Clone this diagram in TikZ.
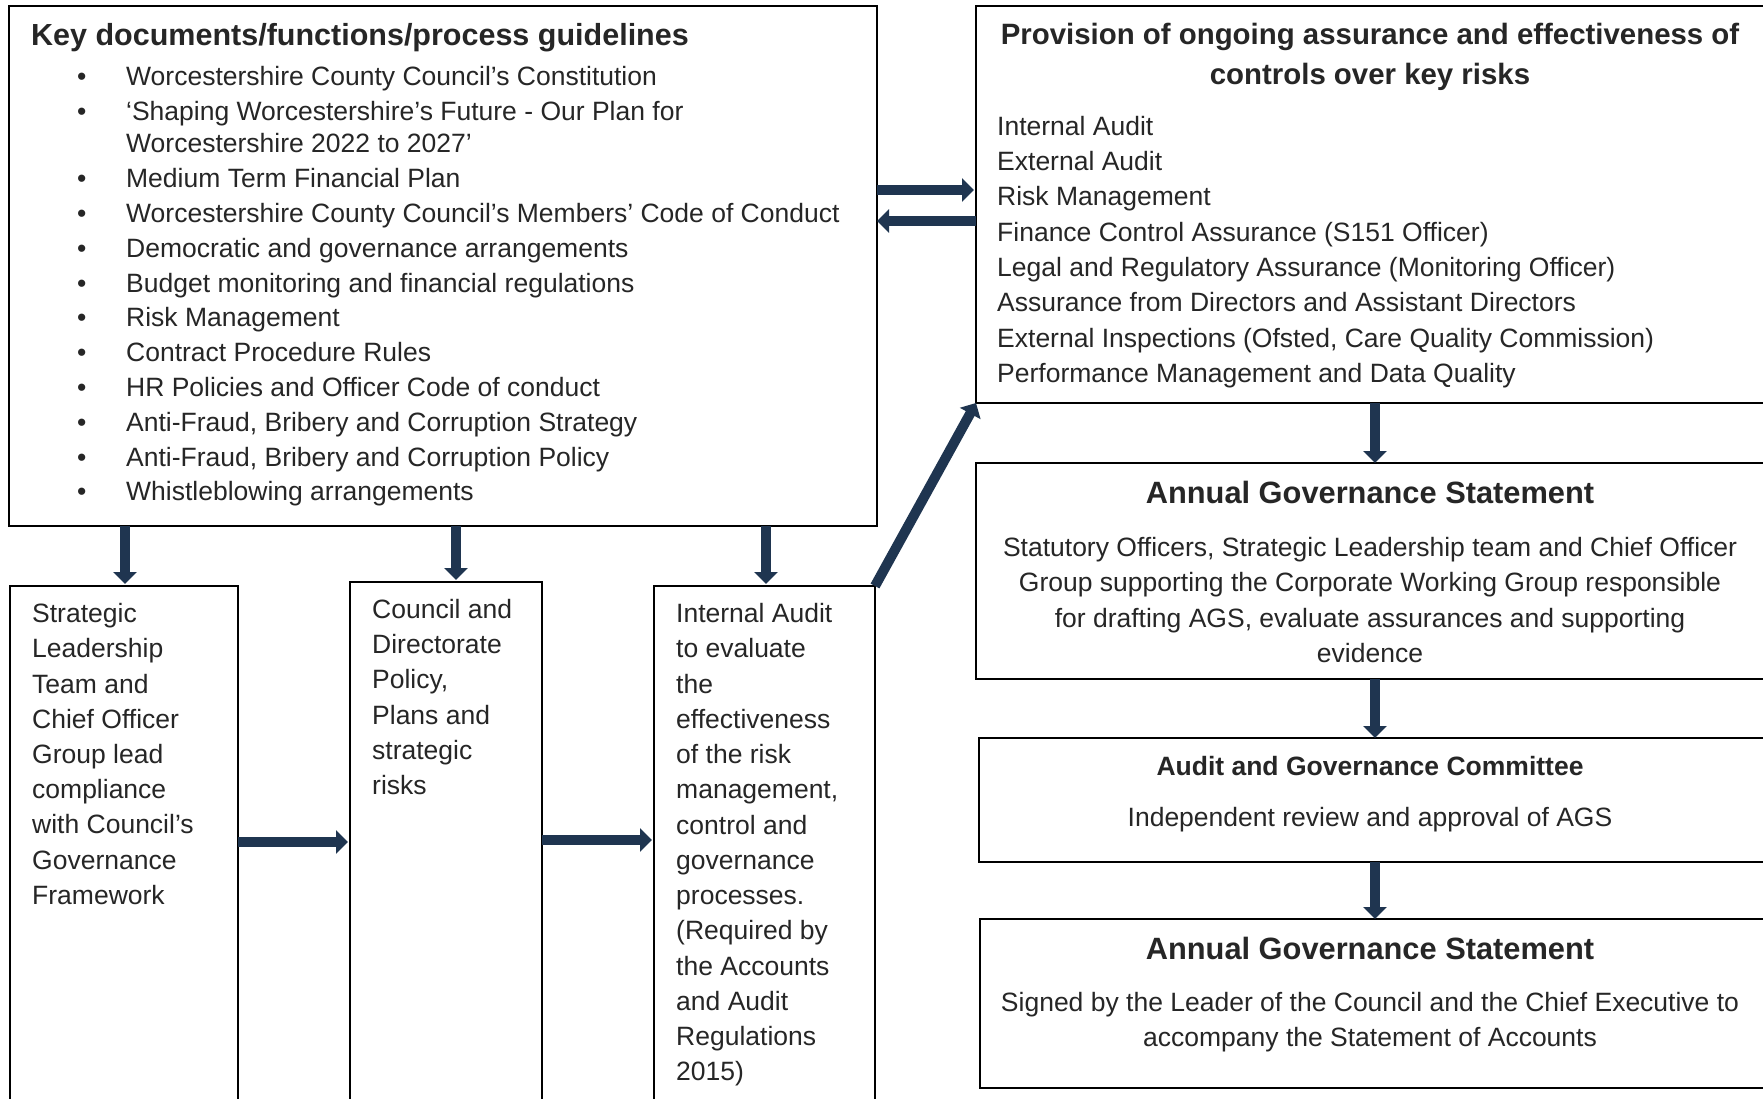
\documentclass[tikz,border=0pt]{standalone}
\usepackage{fontspec}
\setmainfont{Liberation Sans}
\usetikzlibrary{arrows.meta}
\definecolor{navy}{RGB}{31,53,80}
\definecolor{txt}{RGB}{38,38,38}
\newcommand{\fst}{\rule{0pt}{22pt}}
\newcommand{\hst}{\rule{0pt}{25pt}}
\newcommand{\bul}{\makebox[51pt][l]{\hspace*{2pt}•}}
\newcommand{\ind}{\hspace*{51pt}}
\tikzset{
  box/.style={draw=black, line width=1.8pt, anchor=north west, inner sep=0pt, outer sep=0pt},
  bigarrow/.style={draw=navy, line width=10pt, -{Triangle[width=23pt,length=12pt]}},
  bodyl/.style={text=txt, font=\fontsize{26.5}{35.1}\selectfont, inner sep=0pt, align=left, anchor=north west},
  bodyc/.style={text=txt, font=\fontsize{26.5}{35.2}\selectfont, inner sep=0pt, align=center, anchor=north},
  headl/.style={text=txt, font=\fontsize{30.5}{39}\selectfont\bfseries, inner sep=0pt, align=left, anchor=north west},
  headc/.style={text=txt, font=\fontsize{30.8}{39}\selectfont\bfseries, inner sep=0pt, align=center, anchor=north},
  headsc/.style={text=txt, font=\fontsize{26.5}{35}\selectfont\bfseries, inner sep=0pt, align=center, anchor=north},
}
\begin{document}
\begin{tikzpicture}[x=1pt, y=-1pt]
\useasboundingbox (0,0) rectangle (1763,1099);
\clip (0,0) rectangle (1763,1099);
\fill[white] (0,0) rectangle (1763,1099);

% boxes
\node[box, minimum width=868pt, minimum height=520pt] (KD) at (9,6) {};
\node[box, minimum width=228pt, minimum height=530pt] (SLT) at (10,586) {};
\node[box, minimum width=192pt, minimum height=530pt] (CP) at (350,582) {};
\node[box, minimum width=221pt, minimum height=530pt] (IA) at (654,586) {};
\node[box, minimum width=800pt, minimum height=397pt] (PA) at (976,6) {};
\node[box, minimum width=800pt, minimum height=216pt] (AGS1) at (976,463) {};
\node[box, minimum width=797pt, minimum height=124pt] (AGC) at (979,738) {};
\node[box, minimum width=796pt, minimum height=169pt] (AGS2) at (980,919) {};

% texts
\node[headl] (KDh) at (31,20) {\hst Key documents/functions/process guidelines};
\node[bodyl, font=\fontsize{26.5}{34.8}\selectfont] (KDl) at (75,63) {\fst\bul Worcestershire County Council’s Constitution\\
\bul ‘Shaping Worcestershire’s Future - Our Plan for\\[-2pt]
\ind Worcestershire 2022 to 2027’\\
\bul Medium Term Financial Plan\\
\bul Worcestershire County Council’s Members’ Code of Conduct\\
\bul Democratic and governance arrangements\\
\bul Budget monitoring and financial regulations\\
\bul Risk Management\\
\bul Contract Procedure Rules\\
\bul HR Policies and Officer Code of conduct\\
\bul Anti-Fraud, Bribery and Corruption Strategy\\
\bul Anti-Fraud, Bribery and Corruption Policy\\
\bul Whistleblowing arrangements};

\node[bodyl, font=\fontsize{26.5}{35.2}\selectfont] (SLTt) at (32,600.5) {\fst Strategic\\ Leadership\\ Team and\\ Chief Officer\\ Group lead\\ compliance\\ with Council’s\\ Governance\\ Framework};
\node[bodyl, font=\fontsize{26.5}{35.3}\selectfont] (CPt) at (372,596) {\fst Council and\\ Directorate\\ Policy,\\ Plans and\\ strategic\\ risks};
\node[bodyl, font=\fontsize{26.5}{35.25}\selectfont] (IAt) at (676,600.5) {\fst Internal Audit\\ to evaluate\\ the\\ effectiveness\\ of the risk\\ management,\\ control and\\ governance\\ processes.\\ (Required by\\ the Accounts\\ and Audit\\ Regulations\\ 2015)};

\node[headc, font=\fontsize{29.4}{40}\selectfont\bfseries] (PAh) at (1370,19.5) {\hst Provision of ongoing assurance and effectiveness of\\ controls over key risks};
\node[bodyl, font=\fontsize{26.5}{35.3}\selectfont] (PAl) at (997,113) {\fst Internal Audit\\ External Audit\\ Risk Management\\ Finance Control Assurance (S151 Officer)\\ Legal and Regulatory Assurance (Monitoring Officer)\\ Assurance from Directors and Assistant Directors\\ External Inspections (Ofsted, Care Quality Commission)\\ Performance Management and Data Quality};

\node[headc] (AGS1h) at (1370,478) {\hst Annual Governance Statement};
\node[bodyc] (AGS1t) at (1370,534.5) {\fst Statutory Officers, Strategic Leadership team and Chief Officer\\ Group supporting the Corporate Working Group responsible\\ for drafting AGS, evaluate assurances and supporting\\ evidence};

\node[headsc] (AGCh) at (1370,753) {\fst Audit and Governance Committee};
\node[bodyc] (AGCt) at (1370,804) {\fst Independent review and approval of AGS};

\node[headc] (AGS2h) at (1370,934) {\hst Annual Governance Statement};
\node[bodyc, font=\fontsize{26.5}{35}\selectfont] (AGS2t) at (1370,989) {\fst Signed by the Leader of the Council and the Chief Executive to\\ accompany the Statement of Accounts};

% arrow guide coordinates
\coordinate (a1) at (125,0);
\coordinate (a2) at (456,0);
\coordinate (a3) at (766,0);
\coordinate (ar) at (1375,0);
\coordinate (h1) at (0,842);
\coordinate (h2) at (0,840);
\coordinate (d1) at (0,190);
\coordinate (d2) at (0,221);

% arrows
\draw[bigarrow, shorten >=2pt] (KD.south -| a1) -- (SLT.north -| a1);
\draw[bigarrow, shorten >=2pt] (KD.south -| a2) -- (CP.north -| a2);
\draw[bigarrow, shorten >=2pt] (KD.south -| a3) -- (IA.north -| a3);
\draw[bigarrow, shorten >=2pt] (SLT.east |- h1) -- (CP.west |- h1);
\draw[bigarrow, shorten >=2pt] (CP.east |- h2) -- (IA.west |- h2);
\draw[bigarrow, shorten >=2pt] (KD.east |- d1) -- (PA.west |- d1);
\draw[bigarrow, shorten >=0pt] (PA.west |- d2) -- (KD.east |- d2);
\draw[bigarrow] (IA.north east) -- (PA.south west);
\draw[bigarrow] (PA.south -| ar) -- (AGS1.north -| ar);
\draw[bigarrow] (AGS1.south -| ar) -- (AGC.north -| ar);
\draw[bigarrow] (AGC.south -| ar) -- (AGS2.north -| ar);
\end{tikzpicture}
\end{document}
